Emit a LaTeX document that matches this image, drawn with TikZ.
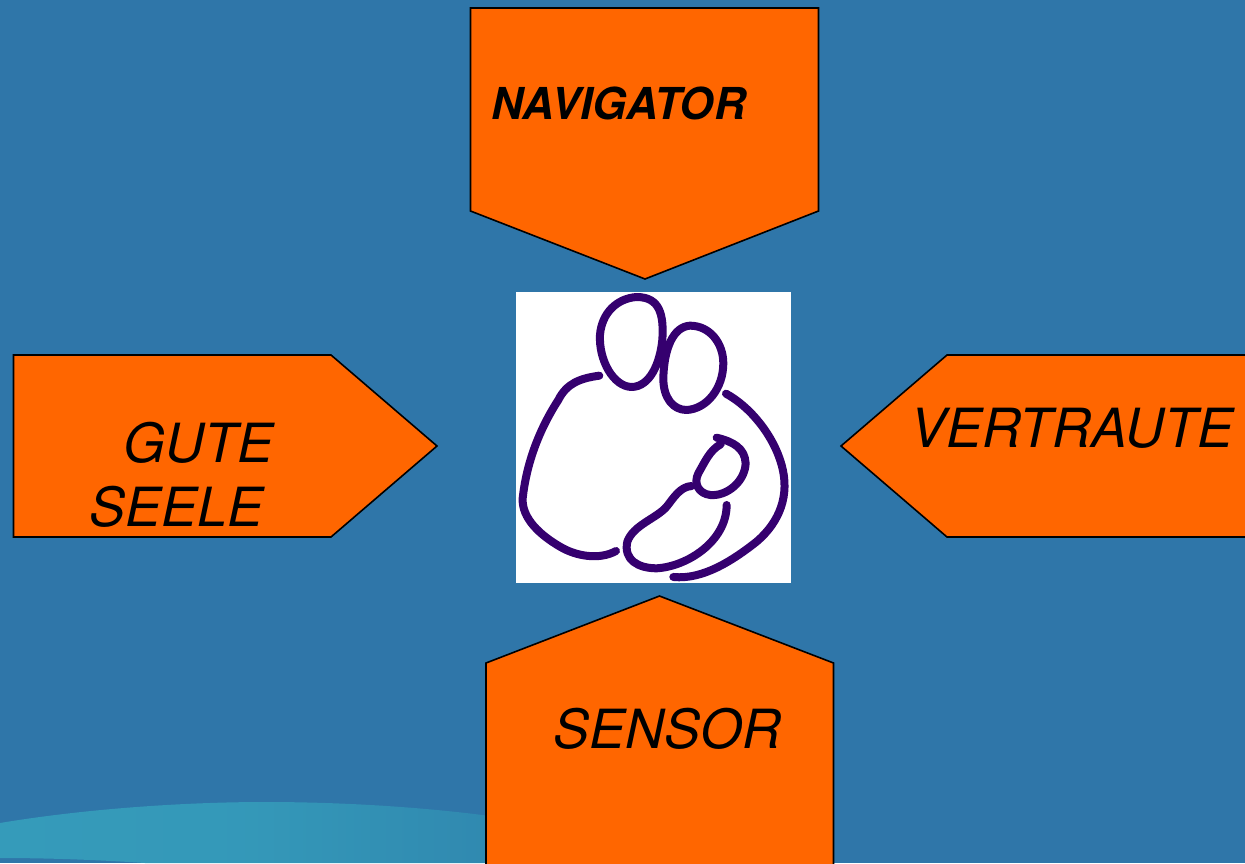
\documentclass[tikz,border=0pt]{standalone}
\usepackage{fontspec}
\setmainfont{TeX Gyre Heros}
\definecolor{bgblue}{HTML}{2F76A9}
\definecolor{bandL}{HTML}{359BBA}
\definecolor{bandR}{HTML}{3089B0}
\definecolor{arrowor}{HTML}{FF6600}
\definecolor{logoink}{HTML}{35006F}
\tikzset{
  x=1pt,y=-1pt,
  arrowbox/.style={fill=arrowor,draw=black,line width=1.6pt,line join=miter},
  lbl/.style={inner sep=0pt,anchor=base west,font=\fontsize{54}{64}\selectfont\itshape},
  logostroke/.style={draw=logoink,line width=8pt,line cap=round,line join=round},
}
\begin{document}
\begin{tikzpicture}
\useasboundingbox (0,0) rectangle (1245,863);
\fill[bgblue] (0,0) rectangle (1245,863);
% band
\begin{scope}
\clip (0,0) rectangle (1245,863);
\shade[left color=bandL,right color=bandR,middle color=bandL!85!bandR]
  (0,823) .. controls (90,808) and (190,802) .. (265,802)
  .. controls (350,802) and (430,808) .. (490,816)
  -- (490,863) -- (145,863) .. controls (100,860) and (50,858) .. (0,858) -- cycle;
\end{scope}
% arrows
\path[arrowbox] (470.5,8) -- (818.5,8) -- (818.5,211) -- (645,279) -- (470.5,211) -- cycle;
\path[arrowbox] (13.5,355) -- (331,355) -- (437,446) -- (331,537) -- (13.5,537) -- cycle;
\path[arrowbox] (1250,355) -- (947,355) -- (841,446) -- (947,537) -- (1250,537);
\path[arrowbox] (486,870) -- (486,663) -- (659.5,596) -- (833.5,663) -- (833.5,870);
% logo
\fill[white] (516,292) rectangle (791,583);
\begin{scope}[shift={(510,285)},x=0.3333pt,y=-0.3333pt]
\path[logostroke] (380,36) .. controls (320,40) and (275,85) .. (270,150)
  .. controls (266,225) and (310,305) .. (365,306)
  .. controls (420,305) and (450,235) .. (457,165)
  .. controls (462,90) and (450,36) .. (380,36) -- cycle;
\path[logostroke] (540,122) .. controls (490,125) and (462,190) .. (460,280)
  .. controls (460,340) and (490,375) .. (530,375)
  .. controls (590,372) and (640,310) .. (640,235)
  .. controls (640,175) and (600,122) .. (540,122) -- cycle;
\path[logostroke] (268,272) .. controls (210,280) and (170,295) .. (145,345)
  .. controls (90,430) and (50,530) .. (38,640)
  .. controls (35,700) and (90,750) .. (150,785)
  .. controls (200,815) and (270,825) .. (318,798);
\path[logostroke] (648,326) .. controls (720,365) and (790,450) .. (815,540)
  .. controls (840,630) and (810,710) .. (740,770)
  .. controls (670,825) and (580,885) .. (490,876);
\path[logostroke] (620,458) .. controls (670,470) and (705,490) .. (707,535)
  .. controls (705,590) and (650,635) .. (600,630)
  .. controls (565,625) and (550,595) .. (565,565)
  .. controls (585,530) and (600,495) .. (632,478);
\path[logostroke] (545,603) .. controls (510,605) and (490,640) .. (470,665)
  .. controls (440,700) and (370,720) .. (352,770)
  .. controls (340,825) and (385,850) .. (440,850)
  .. controls (530,845) and (650,770) .. (650,660);
\end{scope}
% labels
\node[lbl,font=\fontsize{44}{50}\selectfont\bfseries\itshape] (nav) at (491.5,119) {NAVIGATOR};
\node[lbl] (gute) at (123,462) {GUTE};
\node[lbl] (seele) at (89,526) {SEELE};
\node[lbl] (vert) at (910,447) {VERTRAUTE};
\node[lbl] (sens) at (553,748) {SENSOR};
\end{tikzpicture}
\end{document}
